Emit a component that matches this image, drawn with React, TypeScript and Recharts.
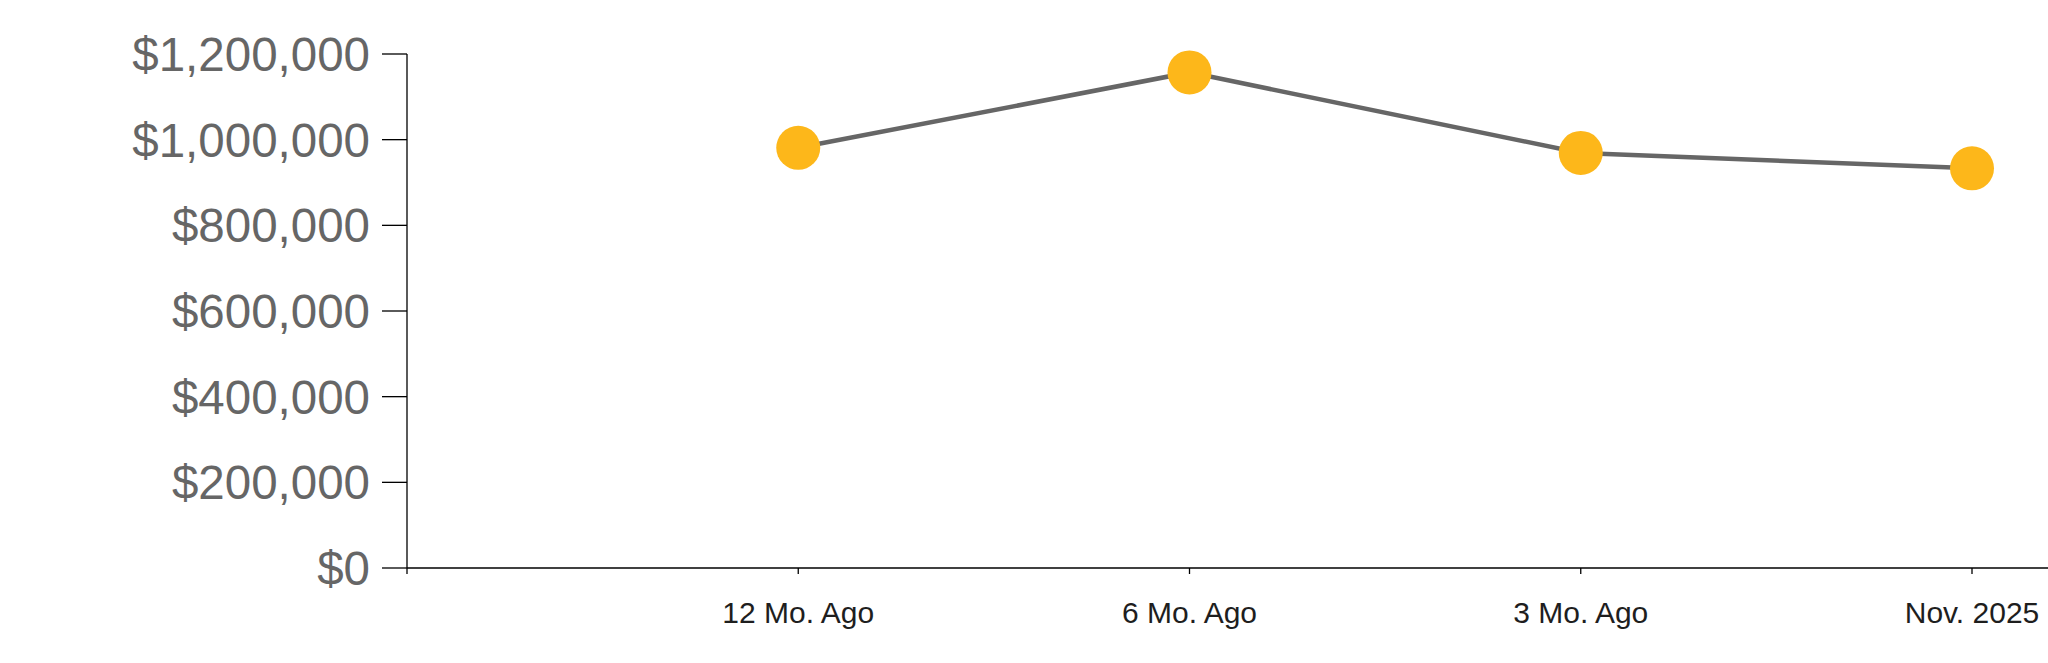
import { CartesianGrid, Line, LineChart, XAxis, YAxis } from "recharts";

// first slot is an empty category: the reference leaves a blank step before "12 Mo. Ago"
const periods = ["", "12 Mo. Ago", "6 Mo. Ago", "3 Mo. Ago", "Nov. 2025"];
const values: (number | null)[] = [null, 981000, 1157000, 969000, 933000];
const yTicks = [0, 200000, 400000, 600000, 800000, 1000000, 1200000];

const data = periods.map((period, i) => ({ period, value: values[i] }));

const formatDollars = (v: number) => "$" + v.toLocaleString("en-US");

export default function App() {
  return (
    <div style={{ position: "absolute", left: 0, top: 0 }}>
      <LineChart
        width={2048}
        height={663}
        data={data}
        margin={{ top: 54, right: 0, left: 0, bottom: 35 }}
      >
        <CartesianGrid stroke="none" />
        <XAxis
          dataKey="period"
          scale="point"
          padding={{ left: 0, right: 76 }}
          height={60}
          interval={0}
          stroke="#000"
          strokeWidth={1.3}
          tickSize={6}
          tickMargin={28}
          tick={{ fill: "#1e1e1e", fontSize: 30, fontFamily: "Liberation Sans, Arial, sans-serif" }}
        />
        <YAxis
          width={407}
          domain={[0, 1200000]}
          ticks={yTicks}
          interval={0}
          stroke="#000"
          strokeWidth={1.3}
          tickSize={25}
          tickMargin={12}
          tickFormatter={formatDollars}
          tick={{ fill: "#666", fontSize: 47.5, fontFamily: "Liberation Sans, Arial, sans-serif" }}
        />
        <Line
          type="linear"
          dataKey="value"
          stroke="#666"
          strokeWidth={4.5}
          dot={{ r: 22, fill: "#FDB71A", stroke: "none", fillOpacity: 1 }}
          activeDot={false}
          isAnimationActive={false}
        />
      </LineChart>
    </div>
  );
}
